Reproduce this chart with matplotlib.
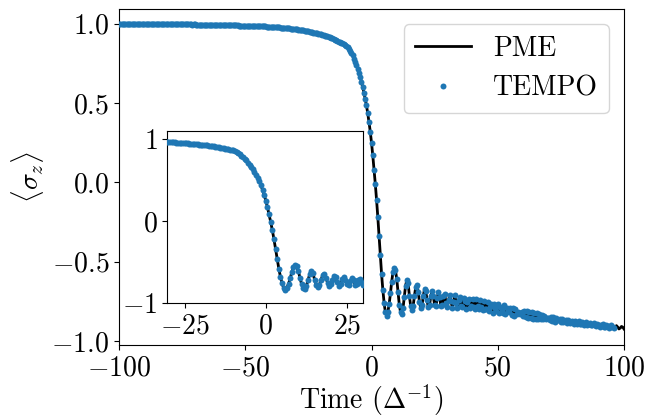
import numpy as np
import matplotlib
matplotlib.use("Agg")
import matplotlib.pyplot as plt

plt.rcParams['font.family'] = 'serif'
plt.rcParams['font.serif'] = ['cmr10']
plt.rcParams['mathtext.fontset'] = 'cm'
plt.rcParams['axes.formatter.use_mathtext'] = True
plt.rcParams['axes.unicode_minus'] = True

# time grid of the TEMPO / PME samples
t_start, t_step = -100.0, 0.5

# <sigma_z> values
tempo_flat = [  # t = -100 ... -30.5
    1.000, 0.999, 1.000, 0.999, 0.999, 1.000, 0.999, 0.999, 0.999, 0.999,
    0.999, 0.999, 0.998, 0.999, 0.999, 0.998, 0.999, 0.998, 0.998, 0.999,
    0.998, 0.998, 0.998, 0.998, 0.998, 0.997, 0.998, 0.998, 0.997, 0.998,
    0.997, 0.997, 0.997, 0.998, 0.997, 0.997, 0.997, 0.996, 0.997, 0.997,
    0.997, 0.996, 0.996, 0.997, 0.996, 0.996, 0.996, 0.996, 0.995, 0.996,
    0.996, 0.995, 0.996, 0.995, 0.995, 0.995, 0.995, 0.995, 0.994, 0.995,
    0.995, 0.994, 0.994, 0.994, 0.994, 0.994, 0.993, 0.994, 0.993, 0.993,
    0.993, 0.993, 0.993, 0.992, 0.993, 0.992, 0.992, 0.992, 0.992, 0.991,
    0.992, 0.991, 0.991, 0.991, 0.991, 0.990, 0.991, 0.990, 0.990, 0.990,
    0.990, 0.989, 0.989, 0.989, 0.989, 0.988, 0.988, 0.988, 0.987, 0.988,
    0.987, 0.987, 0.987, 0.986, 0.986, 0.986, 0.985, 0.985, 0.985, 0.984,
    0.984, 0.984, 0.983, 0.983, 0.982, 0.982, 0.982, 0.981, 0.981, 0.980,
    0.980, 0.979, 0.979, 0.978, 0.978, 0.977, 0.976, 0.976, 0.975, 0.975,
    0.974, 0.973, 0.972, 0.972, 0.971, 0.970, 0.969, 0.969, 0.968, 0.967,
]
tempo_drop = [  # t = -30 ... 5.5
    0.966, 0.965, 0.963, 0.962, 0.960, 0.959, 0.957, 0.956, 0.954, 0.953,
    0.951, 0.949, 0.948, 0.946, 0.944, 0.942, 0.940, 0.938, 0.936, 0.934,
    0.932, 0.930, 0.928, 0.925, 0.923, 0.920, 0.918, 0.915, 0.912, 0.908,
    0.903, 0.899, 0.895, 0.891, 0.887, 0.883, 0.879, 0.876, 0.873, 0.868,
    0.862, 0.853, 0.843, 0.830, 0.815, 0.800, 0.780, 0.760, 0.740, 0.715,
    0.690, 0.665, 0.635, 0.600, 0.565, 0.525, 0.485, 0.435, 0.380, 0.320,
    0.250, 0.170, 0.080, -0.010, -0.110, -0.220, -0.340, -0.460, -0.580, -0.680,
    -0.760, -0.820,
]
tempo_osc = [  # t = 6 ... 96
    -0.840, -0.815, -0.765, -0.700, -0.625, -0.565, -0.540, -0.555, -0.610, -0.690,
    -0.770, -0.820, -0.830, -0.790, -0.720, -0.650, -0.615, -0.635, -0.715, -0.778,
    -0.803, -0.777, -0.716, -0.661, -0.649, -0.691, -0.755, -0.793, -0.774, -0.716,
    -0.672, -0.685, -0.744, -0.788, -0.772, -0.714, -0.683, -0.718, -0.775, -0.782,
    -0.730, -0.693, -0.725, -0.781, -0.775, -0.719, -0.705, -0.758, -0.787, -0.742,
    -0.707, -0.750, -0.791, -0.751, -0.712, -0.758, -0.794, -0.744, -0.722, -0.780,
    -0.786, -0.728, -0.749, -0.800, -0.756, -0.732, -0.793, -0.780, -0.732, -0.783,
    -0.795, -0.738, -0.780, -0.801, -0.744, -0.784, -0.803, -0.747, -0.796, -0.798,
    -0.752, -0.811, -0.785, -0.766, -0.821, -0.769, -0.794, -0.813, -0.766, -0.823,
    -0.786, -0.795, -0.822, -0.776, -0.831, -0.789, -0.813, -0.817, -0.794, -0.837,
    -0.790, -0.840, -0.800, -0.831, -0.817, -0.821, -0.832, -0.814, -0.844, -0.812,
    -0.850, -0.812, -0.854, -0.815, -0.857, -0.818, -0.859, -0.822, -0.862, -0.825,
    -0.863, -0.830, -0.864, -0.835, -0.863, -0.843, -0.860, -0.854, -0.854, -0.866,
    -0.848, -0.875, -0.847, -0.877, -0.855, -0.870, -0.870, -0.860, -0.883, -0.858,
    -0.882, -0.871, -0.870, -0.888, -0.865, -0.887, -0.881, -0.873, -0.895, -0.876,
    -0.884, -0.895, -0.875, -0.893, -0.893, -0.878, -0.898, -0.893, -0.881, -0.901,
    -0.895, -0.884, -0.902, -0.900, -0.886, -0.901, -0.906, -0.890, -0.898, -0.911,
    -0.898, -0.895, -0.911, -0.910, -0.897, -0.903, -0.917, -0.909, -0.900, -0.910,
    -0.920,
]
pme_tail = [  # t = 96.5 ... 100
    -0.912, -0.903, -0.912, -0.924, -0.918, -0.908, -0.912, -0.924,
]

tempo_vals = np.array(tempo_flat + tempo_drop + tempo_osc)
pme_vals = np.array(tempo_flat + tempo_drop + tempo_osc + pme_tail)
t_tempo = t_start + t_step * np.arange(len(tempo_vals))
t_pme = t_start + t_step * np.arange(len(pme_vals))

main_xticks = [-100, -50, 0, 50, 100]
main_yticks = [-1.0, -0.5, 0.0, 0.5, 1.0]
inset_xticks = [-25, 0, 25]
inset_yticks = [-1, 0, 1]

blue = '#1f77b4'
fs = 20
ms = 4.3

fig = plt.figure(figsize=(6.59, 4.18), dpi=100)
ax = fig.add_axes([0.1806, 0.1746, 0.7663, 0.8038])
ax.plot(t_pme, pme_vals, color='black', lw=2.0, label='PME', zorder=2)
ax.plot(t_tempo, tempo_vals, ls='none', marker='o', ms=ms, mew=0,
        color=blue, label='TEMPO', zorder=3)
ax.set_xlim(-100, 100)
ax.set_ylim(-1.025, 1.092)
ax.set_xticks(main_xticks)
ax.set_yticks(main_yticks)
ax.tick_params(labelsize=fs)
ax.set_xlabel(r'Time $(\Delta^{-1})$', fontsize=fs, labelpad=1)
ax.set_ylabel(r'$\langle\sigma_z\rangle$', fontsize=fs)
ax.legend(loc='upper right', fontsize=fs, borderaxespad=0.55)

ins = fig.add_axes([0.2539, 0.2744, 0.2974, 0.4122])
ins.plot(t_pme, pme_vals, color='black', lw=2.0, zorder=2)
ins.plot(t_tempo, tempo_vals, ls='none', marker='o', ms=ms, mew=0,
         color=blue, zorder=3)
ins.set_xlim(-30.3, 30.0)
ins.set_ylim(-1.005, 1.1)
ins.set_xticks(inset_xticks)
ins.set_yticks(inset_yticks)
ins.tick_params(labelsize=fs)

fig.savefig('out.png', dpi=100)
